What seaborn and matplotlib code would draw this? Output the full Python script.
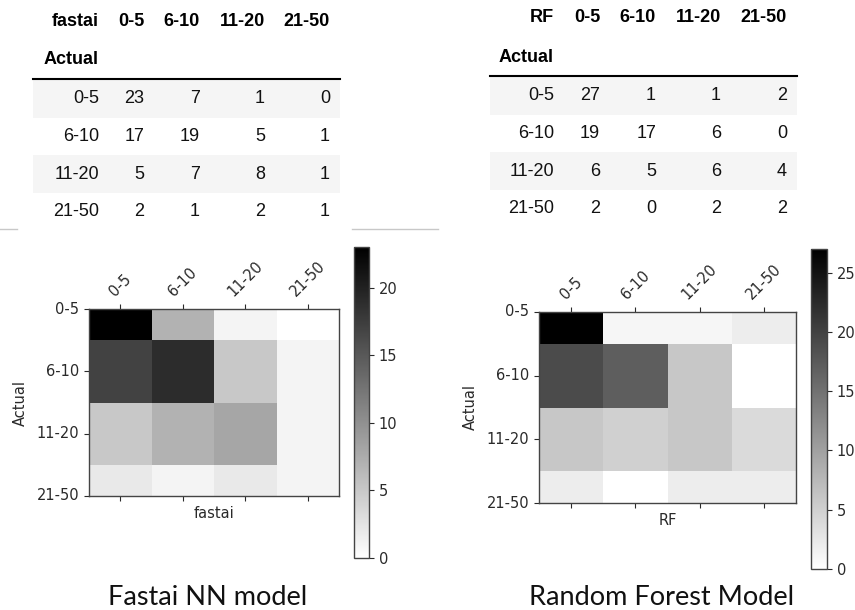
import matplotlib
matplotlib.use("Agg")
import pandas as pd
import matplotlib.pyplot as plt
import seaborn as sns

# confusion matrices
bins = ["0-5", "6-10", "11-20", "21-50"]
fastai_counts = [[23, 7, 1, 0],
                 [17, 19, 5, 1],
                 [5, 7, 8, 1],
                 [2, 1, 2, 1]]
rf_counts = [[27, 1, 1, 2],
             [19, 17, 6, 0],
             [6, 5, 6, 4],
             [2, 0, 2, 2]]
model_names = ["fastai", "RF"]
captions = ["Fastai NN model", "Random Forest Model"]

W, H = 855, 610
fig = plt.figure(figsize=(W / 100, H / 100), dpi=100)
plt.rcParams["font.size"] = 10.5


def fbox(l, t, r, b):
    """pixel box (left, top, right, bottom) -> figure fraction rect"""
    return [l / W, 1 - b / H, (r - l) / W, (b - t) / H]


# full-figure overlay for the pandas-style tables and captions
bg = fig.add_axes([0, 0, 1, 1], zorder=-1)
bg.set_xlim(0, W)
bg.set_ylim(H, 0)
bg.axis("off")


def draw_table(name, counts, idx_right, col_rights, y_head, y_actual,
               y_line, x0, x1, row_top, row_h=37.7):
    tfont = dict(family="Liberation Sans", fontsize=13)
    bg.text(idx_right, y_head, name, ha="right", va="center", weight="bold", **tfont)
    for lab, xr in zip(bins, col_rights):
        bg.text(xr, y_head, lab, ha="right", va="center", weight="bold", **tfont)
    bg.text(idx_right, y_actual, "Actual", ha="right", va="center", weight="bold", **tfont)
    bg.plot([x0, x1], [y_line, y_line], color="black", lw=1.5)
    for i, row in enumerate(counts):
        top = row_top + i * row_h
        if i % 2 == 0:
            bg.add_patch(plt.Rectangle((x0, top), x1 - x0, row_h,
                                       color="#f5f5f5", lw=0, zorder=0))
        yc = top + row_h / 2
        bg.text(idx_right, yc, bins[i], ha="right", va="center", color="#111", **tfont)
        for v, xr in zip(row, col_rights):
            bg.text(xr, yc, str(v), ha="right", va="center", color="#111", **tfont)


draw_table(model_names[0], fastai_counts, 99, [144, 200, 265, 330], 22, 60, 79, 33, 340, 80)
draw_table(model_names[1], rf_counts, 554, [600, 656, 721, 787], 18, 57, 76, 490, 797, 77)

# faint slide separator
bg.plot([0, 17], [229, 229], color="#c8c8c8", lw=1)
bg.plot([352, 438], [229, 229], color="#c8c8c8", lw=1)

# heatmaps
layouts = [
    dict(ax=(89, 309, 339, 496), cax=(354, 247, 369, 558), ylab_x=-0.244),
    dict(ax=(539, 312, 796, 503), cax=(811, 249, 827, 569), ylab_x=-0.237),
]
tick_color = "#2a2a2a"
for name, counts, lay in zip(model_names, [fastai_counts, rf_counts], layouts):
    df = pd.DataFrame(counts,
                      index=pd.Index(bins, name="Actual"),
                      columns=pd.Index(bins, name=name))
    ax = fig.add_axes(fbox(*lay["ax"]))
    cax = fig.add_axes(fbox(*lay["cax"]))
    sns.heatmap(df, ax=ax, cbar_ax=cax, cmap="gray_r",
                vmin=0, vmax=df.values.max())
    # first and last rows are cut in half, as in the original notebook output
    ax.set_ylim(3.5, 0.5)
    ax.tick_params(axis="x", top=True, labeltop=True, bottom=True,
                   labelbottom=False, colors=tick_color)
    ax.tick_params(axis="y", colors=tick_color)
    plt.setp(ax.get_xticklabels(), rotation=45, ha="center")
    plt.setp(ax.get_yticklabels(), rotation=0)
    for sp in ax.spines.values():
        sp.set_visible(True)
        sp.set_color("#444444")
        sp.set_linewidth(1.0)
    ax.xaxis.label.set_color(tick_color)
    ax.yaxis.label.set_color(tick_color)
    ax.yaxis.set_label_coords(lay["ylab_x"], 0.5)

    cb = ax.collections[0].colorbar
    cb.outline.set_linewidth(1.0)
    cb.outline.set_edgecolor("#444444")
    cax.tick_params(colors=tick_color)

bg.text(208, 605, captions[0], ha="center", va="baseline", fontsize=19.5, family="Lato", color="#111")
bg.text(662, 605, captions[1], ha="center", va="baseline", fontsize=19.5, family="Lato", color="#111")

fig.savefig("out.png", dpi=100)
